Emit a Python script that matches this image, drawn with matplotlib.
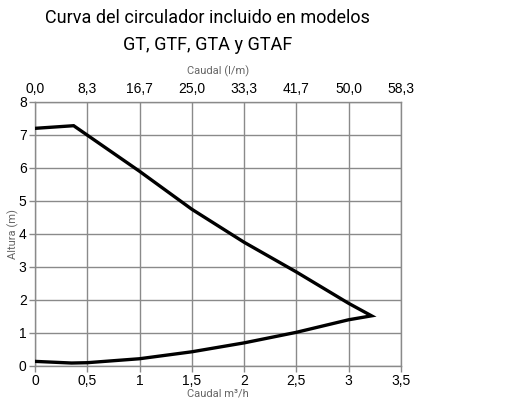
import matplotlib
matplotlib.use("Agg")
import matplotlib.pyplot as plt

# pump curve, traced as one polyline (m3/h vs m)
caudal = [0.0, 0.37, 1.0, 1.5, 2.0, 2.5, 3.0, 3.22,
          3.0, 2.5, 2.0, 1.5, 1.0, 0.5, 0.35, 0.0]
altura = [7.2, 7.28, 5.9, 4.75, 3.75, 2.85, 1.9, 1.52,
          1.4, 1.02, 0.7, 0.43, 0.22, 0.1, 0.09, 0.14]

x_ticks = [0, 0.5, 1, 1.5, 2, 2.5, 3, 3.5]
x_labels = ["0", "0,5", "1", "1,5", "2", "2,5", "3", "3,5"]
y_ticks = [0, 1, 2, 3, 4, 5, 6, 7, 8]
lm_labels = ["0,0", "8,3", "16,7", "25,0", "33,3", "41,7", "50,0", "58,3"]

grid_col = "#8a8a8a"
label_col = "#666666"

fig = plt.figure(figsize=(5.26, 4.05), dpi=100)
ax = fig.add_axes([0.0665, 0.0963, 0.6955, 0.652])

ax.plot(caudal, altura, color="black", lw=2.4, solid_joinstyle="miter", zorder=3)

ax.set_xlim(0, 3.5)
ax.set_ylim(0, 8)
ax.set_xticks(x_ticks)
ax.set_xticklabels(x_labels)
ax.set_yticks(y_ticks)
ax.grid(True, color=grid_col, lw=1.0)
for s in ax.spines.values():
    s.set_color(grid_col)
    s.set_linewidth(1.0)
ax.tick_params(direction="out", length=4, width=1, color=grid_col,
               labelsize=10, pad=2)
for t in ax.get_xticklabels() + ax.get_yticklabels():
    t.set_family("Liberation Sans")

ax.set_xlabel("Caudal m³/h", fontsize=8, color=label_col, family="Roboto",
              labelpad=0)
ax.set_ylabel("Altura (m)", fontsize=8, color=label_col, family="Roboto",
              labelpad=0)

# litres per minute scale on top
top = ax.twiny()
top.set_xlim(0, 58.33)
top.set_xticks([v * 50 / 3 for v in x_ticks])
top.set_xticklabels(lm_labels)
top.tick_params(length=0, labelsize=10, pad=4)
for t in top.get_xticklabels():
    t.set_family("Liberation Sans")
for s in top.spines.values():
    s.set_visible(False)
top.set_xlabel("Caudal (l/m)", fontsize=8, color=label_col, family="Roboto",
               labelpad=6)

fig.text(0.395, 0.955, "Curva del circulador incluido en modelos",
         ha="center", va="center", fontsize=13, family="Roboto")
fig.text(0.395, 0.888, "GT, GTF, GTA y GTAF",
         ha="center", va="center", fontsize=13, family="Roboto")

fig.savefig("out.png", dpi=100)
